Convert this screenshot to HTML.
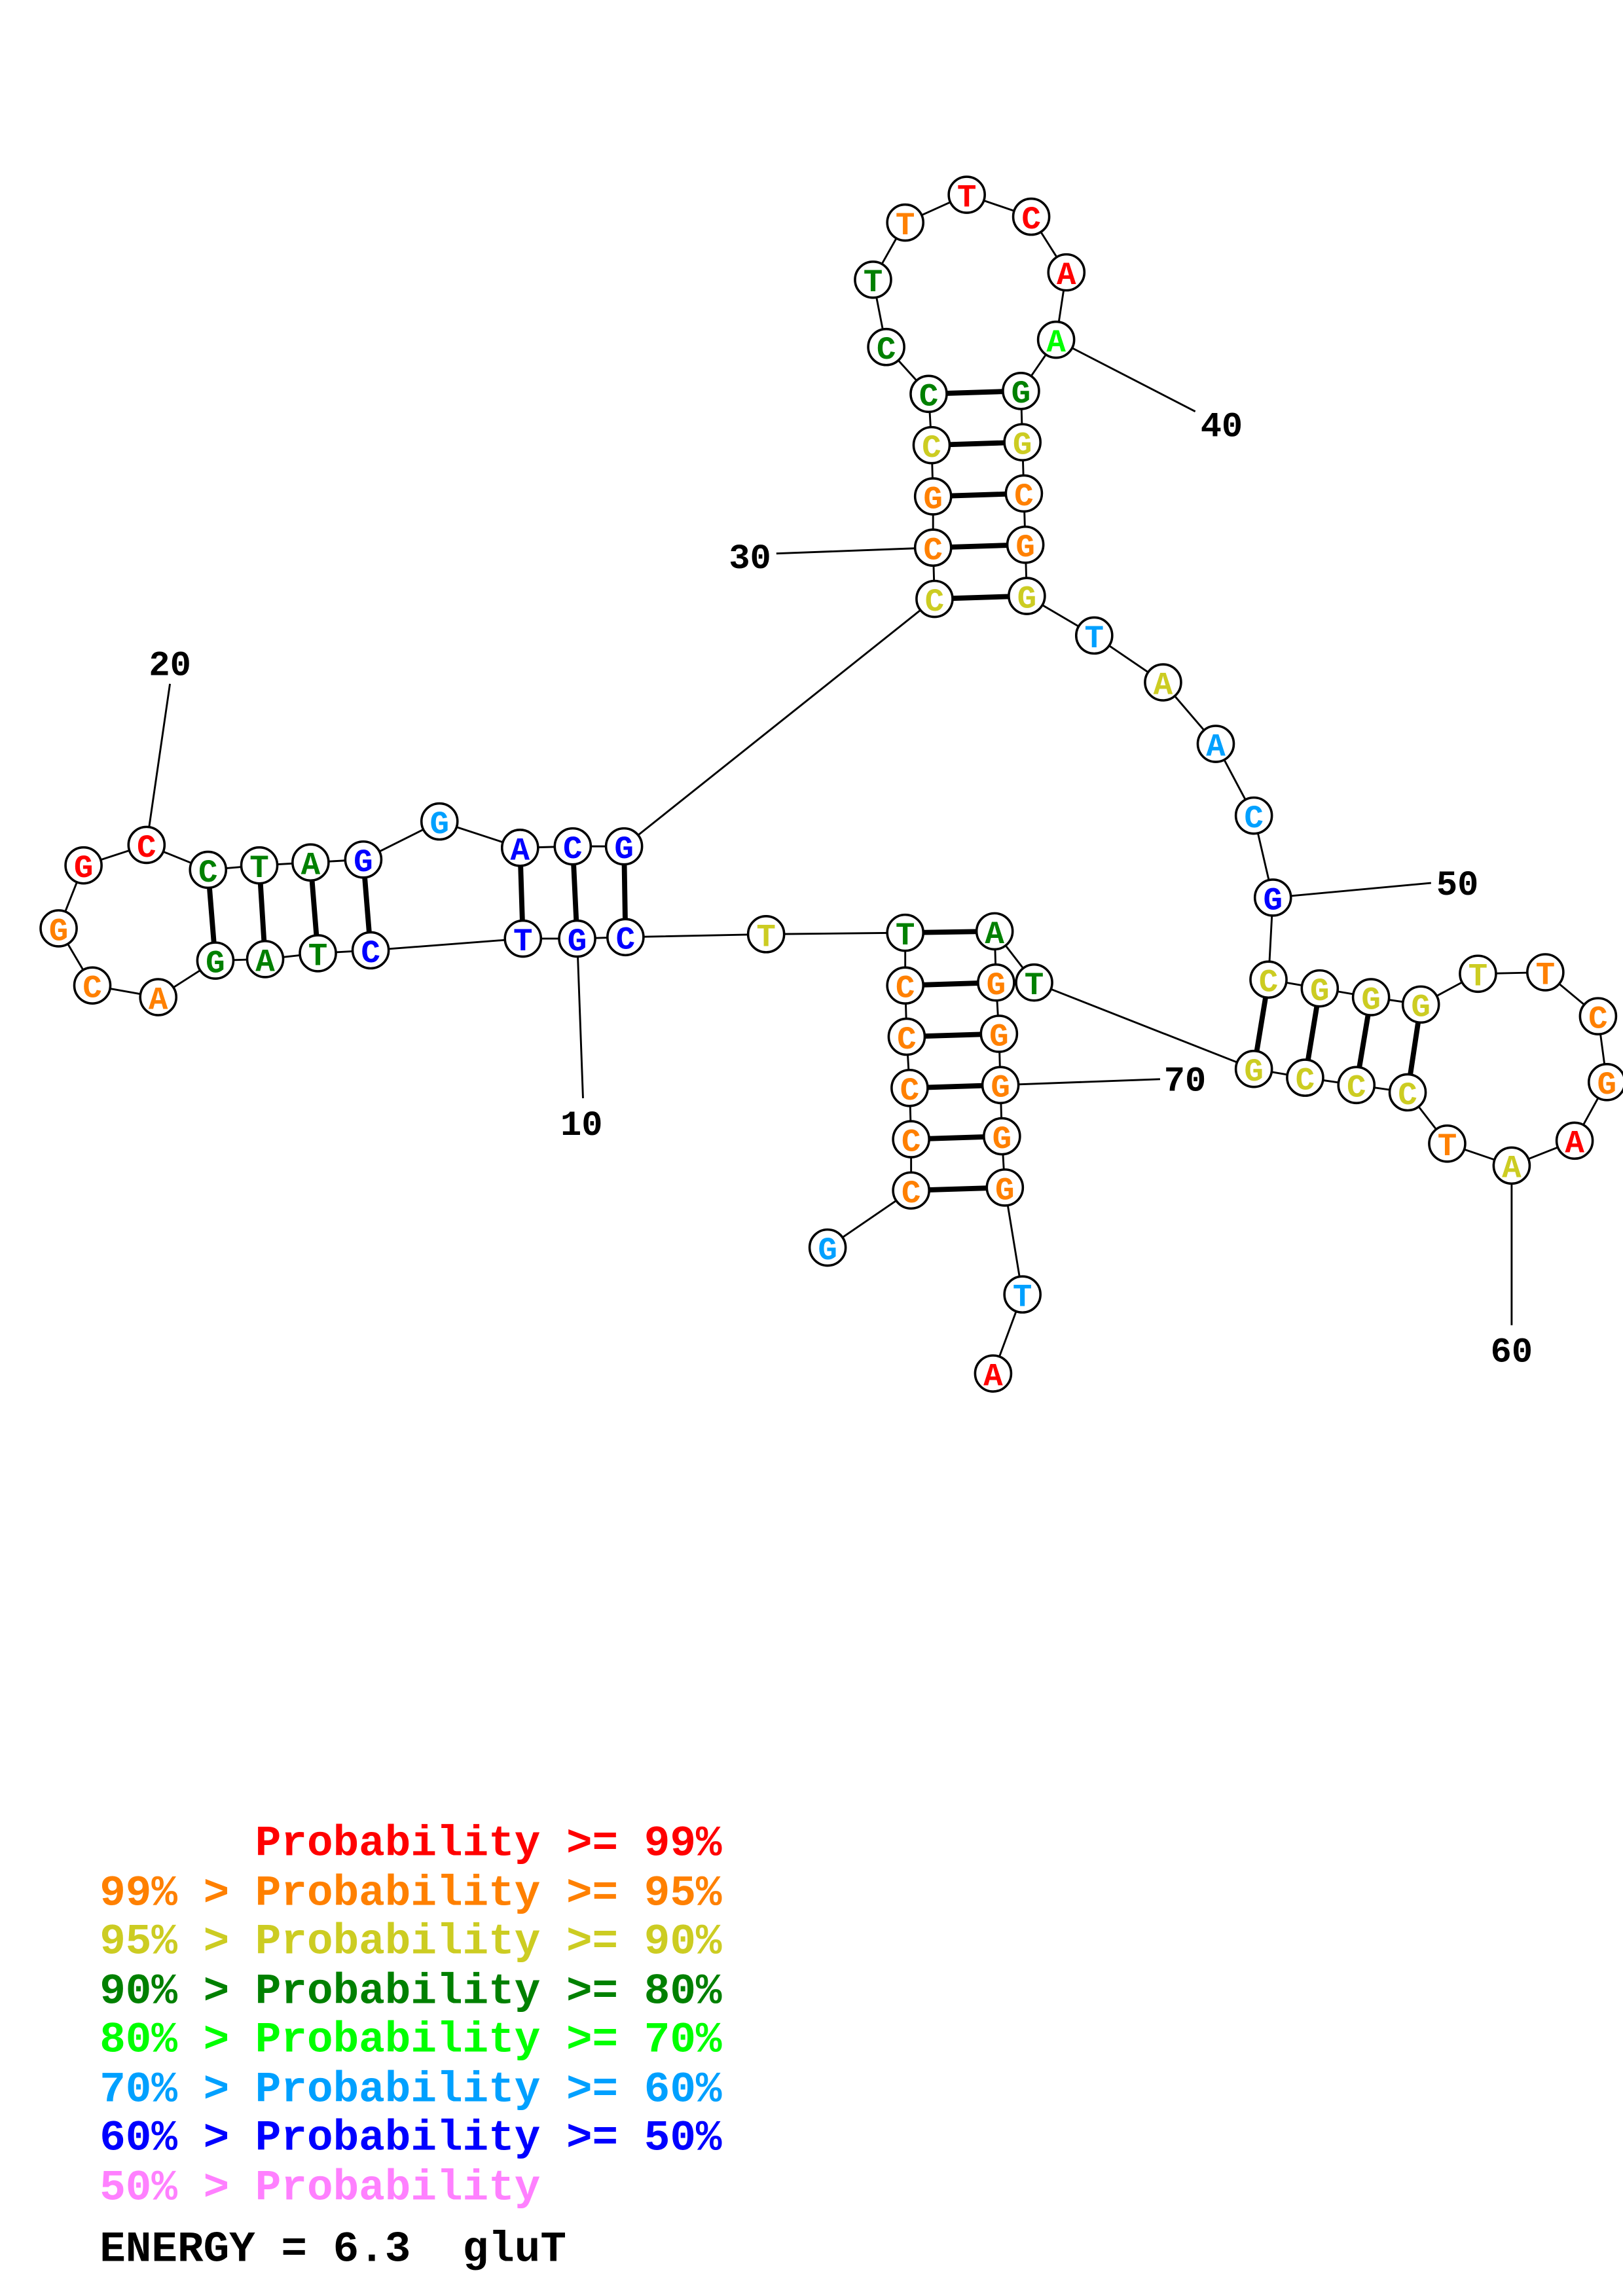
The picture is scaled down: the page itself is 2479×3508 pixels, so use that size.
<!DOCTYPE html>
<html><head><meta charset="utf-8"><style>
html,body{margin:0;padding:0;background:#fff;}
svg{display:block;}
.leg text{white-space:pre;}
</style></head><body>
<svg xmlns="http://www.w3.org/2000/svg" width="2479" height="3508" viewBox="0 0 1108 1568">
<rect width="1108" height="1568" fill="#fff"/>
<g stroke="#000" stroke-width="1.3" fill="none">
<polyline points="565,852 622,813 622,778 621,743 619,708 618,673 618,637 523,638 427,640 394,641 357,641 253,649 217,651 181,655 147,656 108,681 63,673 40,634 57,591 100,577 142,594 177,591 212,589 248,587 300,561 355,579 391,578 426,578 638,409 637,374 637,339 636,304 634,269 605,237 596,191 618,152 660,133 704,148 728,186 721,232 697,267 698,302 699,337 700,372 701,407 747,434 794,466 830,508 856,557 869,613 866,669 901,675 936,681 970,686 1009,665 1055,664 1091,694 1097,739 1075,779 1032,796 988,781 961,746 926,741 891,736 856,730 706,671 679,636 680,671 682,706 683,741 684,776 686,811 698,884 678,938"/>
<line x1="398" y1="750" x2="394" y2="641"/>
<line x1="116" y1="467" x2="100" y2="577"/>
<line x1="530" y1="378" x2="637" y2="374"/>
<line x1="816" y1="281" x2="721" y2="232"/>
<line x1="977" y1="603" x2="869" y2="613"/>
<line x1="1032" y1="905" x2="1032" y2="796"/>
<line x1="792" y1="737" x2="683" y2="741"/>
</g>
<g stroke="#000" stroke-width="3.5">
<line x1="622" y1="813" x2="686" y2="811"/>
<line x1="622" y1="778" x2="684" y2="776"/>
<line x1="621" y1="743" x2="683" y2="741"/>
<line x1="619" y1="708" x2="682" y2="706"/>
<line x1="618" y1="673" x2="680" y2="671"/>
<line x1="618" y1="637" x2="679" y2="636"/>
<line x1="427" y1="640" x2="426" y2="578"/>
<line x1="394" y1="641" x2="391" y2="578"/>
<line x1="357" y1="641" x2="355" y2="579"/>
<line x1="253" y1="649" x2="248" y2="587"/>
<line x1="217" y1="651" x2="212" y2="589"/>
<line x1="181" y1="655" x2="177" y2="591"/>
<line x1="147" y1="656" x2="142" y2="594"/>
<line x1="638" y1="409" x2="701" y2="407"/>
<line x1="637" y1="374" x2="700" y2="372"/>
<line x1="637" y1="339" x2="699" y2="337"/>
<line x1="636" y1="304" x2="698" y2="302"/>
<line x1="634" y1="269" x2="697" y2="267"/>
<line x1="866" y1="669" x2="856" y2="730"/>
<line x1="901" y1="675" x2="891" y2="736"/>
<line x1="936" y1="681" x2="926" y2="741"/>
<line x1="970" y1="686" x2="961" y2="746"/>
</g>
<g fill="#fff" stroke="#000" stroke-width="1.6">
<circle cx="565" cy="852" r="12.3"/><circle cx="622" cy="813" r="12.3"/><circle cx="622" cy="778" r="12.3"/><circle cx="621" cy="743" r="12.3"/><circle cx="619" cy="708" r="12.3"/><circle cx="618" cy="673" r="12.3"/><circle cx="618" cy="637" r="12.3"/><circle cx="523" cy="638" r="12.3"/><circle cx="427" cy="640" r="12.3"/><circle cx="394" cy="641" r="12.3"/><circle cx="357" cy="641" r="12.3"/><circle cx="253" cy="649" r="12.3"/><circle cx="217" cy="651" r="12.3"/><circle cx="181" cy="655" r="12.3"/><circle cx="147" cy="656" r="12.3"/><circle cx="108" cy="681" r="12.3"/><circle cx="63" cy="673" r="12.3"/><circle cx="40" cy="634" r="12.3"/><circle cx="57" cy="591" r="12.3"/><circle cx="100" cy="577" r="12.3"/><circle cx="142" cy="594" r="12.3"/><circle cx="177" cy="591" r="12.3"/><circle cx="212" cy="589" r="12.3"/><circle cx="248" cy="587" r="12.3"/><circle cx="300" cy="561" r="12.3"/><circle cx="355" cy="579" r="12.3"/><circle cx="391" cy="578" r="12.3"/><circle cx="426" cy="578" r="12.3"/><circle cx="638" cy="409" r="12.3"/><circle cx="637" cy="374" r="12.3"/><circle cx="637" cy="339" r="12.3"/><circle cx="636" cy="304" r="12.3"/><circle cx="634" cy="269" r="12.3"/><circle cx="605" cy="237" r="12.3"/><circle cx="596" cy="191" r="12.3"/><circle cx="618" cy="152" r="12.3"/><circle cx="660" cy="133" r="12.3"/><circle cx="704" cy="148" r="12.3"/><circle cx="728" cy="186" r="12.3"/><circle cx="721" cy="232" r="12.3"/><circle cx="697" cy="267" r="12.3"/><circle cx="698" cy="302" r="12.3"/><circle cx="699" cy="337" r="12.3"/><circle cx="700" cy="372" r="12.3"/><circle cx="701" cy="407" r="12.3"/><circle cx="747" cy="434" r="12.3"/><circle cx="794" cy="466" r="12.3"/><circle cx="830" cy="508" r="12.3"/><circle cx="856" cy="557" r="12.3"/><circle cx="869" cy="613" r="12.3"/><circle cx="866" cy="669" r="12.3"/><circle cx="901" cy="675" r="12.3"/><circle cx="936" cy="681" r="12.3"/><circle cx="970" cy="686" r="12.3"/><circle cx="1009" cy="665" r="12.3"/><circle cx="1055" cy="664" r="12.3"/><circle cx="1091" cy="694" r="12.3"/><circle cx="1097" cy="739" r="12.3"/><circle cx="1075" cy="779" r="12.3"/><circle cx="1032" cy="796" r="12.3"/><circle cx="988" cy="781" r="12.3"/><circle cx="961" cy="746" r="12.3"/><circle cx="926" cy="741" r="12.3"/><circle cx="891" cy="736" r="12.3"/><circle cx="856" cy="730" r="12.3"/><circle cx="706" cy="671" r="12.3"/><circle cx="679" cy="636" r="12.3"/><circle cx="680" cy="671" r="12.3"/><circle cx="682" cy="706" r="12.3"/><circle cx="683" cy="741" r="12.3"/><circle cx="684" cy="776" r="12.3"/><circle cx="686" cy="811" r="12.3"/><circle cx="698" cy="884" r="12.3"/><circle cx="678" cy="938" r="12.3"/>
</g>
<g font-family="'Liberation Mono',monospace" font-weight="bold" font-size="22" text-anchor="middle">
<text x="565" y="860" fill="#00a0ff">G</text>
<text x="622" y="821" fill="#ff8000">C</text>
<text x="622" y="786" fill="#ff8000">C</text>
<text x="621" y="751" fill="#ff8000">C</text>
<text x="619" y="716" fill="#ff8000">C</text>
<text x="618" y="681" fill="#ff8000">C</text>
<text x="618" y="645" fill="#008000">T</text>
<text x="523" y="646" fill="#cccc22">T</text>
<text x="427" y="648" fill="#0000ff">C</text>
<text x="394" y="649" fill="#0000ff">G</text>
<text x="357" y="649" fill="#0000ff">T</text>
<text x="253" y="657" fill="#0000ff">C</text>
<text x="217" y="659" fill="#008000">T</text>
<text x="181" y="663" fill="#008000">A</text>
<text x="147" y="664" fill="#008000">G</text>
<text x="108" y="689" fill="#ff8000">A</text>
<text x="63" y="681" fill="#ff8000">C</text>
<text x="40" y="642" fill="#ff8000">G</text>
<text x="57" y="599" fill="#ff0000">G</text>
<text x="100" y="585" fill="#ff0000">C</text>
<text x="142" y="602" fill="#008000">C</text>
<text x="177" y="599" fill="#008000">T</text>
<text x="212" y="597" fill="#008000">A</text>
<text x="248" y="595" fill="#0000ff">G</text>
<text x="300" y="569" fill="#00a0ff">G</text>
<text x="355" y="587" fill="#0000ff">A</text>
<text x="391" y="586" fill="#0000ff">C</text>
<text x="426" y="586" fill="#0000ff">G</text>
<text x="638" y="417" fill="#cccc22">C</text>
<text x="637" y="382" fill="#ff8000">C</text>
<text x="637" y="347" fill="#ff8000">G</text>
<text x="636" y="312" fill="#cccc22">C</text>
<text x="634" y="277" fill="#008000">C</text>
<text x="605" y="245" fill="#008000">C</text>
<text x="596" y="199" fill="#008000">T</text>
<text x="618" y="160" fill="#ff8000">T</text>
<text x="660" y="141" fill="#ff0000">T</text>
<text x="704" y="156" fill="#ff0000">C</text>
<text x="728" y="194" fill="#ff0000">A</text>
<text x="721" y="240" fill="#00ff00">A</text>
<text x="697" y="275" fill="#008000">G</text>
<text x="698" y="310" fill="#cccc22">G</text>
<text x="699" y="345" fill="#ff8000">C</text>
<text x="700" y="380" fill="#ff8000">G</text>
<text x="701" y="415" fill="#cccc22">G</text>
<text x="747" y="442" fill="#00a0ff">T</text>
<text x="794" y="474" fill="#cccc22">A</text>
<text x="830" y="516" fill="#00a0ff">A</text>
<text x="856" y="565" fill="#00a0ff">C</text>
<text x="869" y="621" fill="#0000ff">G</text>
<text x="866" y="677" fill="#cccc22">C</text>
<text x="901" y="683" fill="#cccc22">G</text>
<text x="936" y="689" fill="#cccc22">G</text>
<text x="970" y="694" fill="#cccc22">G</text>
<text x="1009" y="673" fill="#cccc22">T</text>
<text x="1055" y="672" fill="#ff8000">T</text>
<text x="1091" y="702" fill="#ff8000">C</text>
<text x="1097" y="747" fill="#ff8000">G</text>
<text x="1075" y="787" fill="#ff0000">A</text>
<text x="1032" y="804" fill="#cccc22">A</text>
<text x="988" y="789" fill="#ff8000">T</text>
<text x="961" y="754" fill="#cccc22">C</text>
<text x="926" y="749" fill="#cccc22">C</text>
<text x="891" y="744" fill="#cccc22">C</text>
<text x="856" y="738" fill="#cccc22">G</text>
<text x="706" y="679" fill="#008000">T</text>
<text x="679" y="644" fill="#008000">A</text>
<text x="680" y="679" fill="#ff8000">G</text>
<text x="682" y="714" fill="#ff8000">G</text>
<text x="683" y="749" fill="#ff8000">G</text>
<text x="684" y="784" fill="#ff8000">G</text>
<text x="686" y="819" fill="#ff8000">G</text>
<text x="698" y="892" fill="#00a0ff">T</text>
<text x="678" y="946" fill="#ff0000">A</text>
</g>
<g font-family="'Liberation Mono',monospace" font-weight="bold" font-size="24" text-anchor="middle" fill="#000">
<text x="397" y="775">10</text>
<text x="116" y="461">20</text>
<text x="512" y="388">30</text>
<text x="834" y="298">40</text>
<text x="995" y="611">50</text>
<text x="1032" y="930">60</text>
<text x="809" y="745">70</text>
</g>
<g class="leg" font-family="'Liberation Mono',monospace" font-weight="bold" font-size="29.5">
<text x="68" y="1267" fill="#ff0000">      Probability &gt;= 99%</text>
<text x="68" y="1301" fill="#ff8000">99% &gt; Probability &gt;= 95%</text>
<text x="68" y="1334" fill="#cccc22">95% &gt; Probability &gt;= 90%</text>
<text x="68" y="1368" fill="#008000">90% &gt; Probability &gt;= 80%</text>
<text x="68" y="1401" fill="#00ff00">80% &gt; Probability &gt;= 70%</text>
<text x="68" y="1435" fill="#00a0ff">70% &gt; Probability &gt;= 60%</text>
<text x="68" y="1468" fill="#0000ff">60% &gt; Probability &gt;= 50%</text>
<text x="68" y="1502" fill="#ff80ff">50% &gt; Probability</text>
<text x="68" y="1544" fill="#000">ENERGY = 6.3  gluT</text>
</g>
</svg>
</body></html>
